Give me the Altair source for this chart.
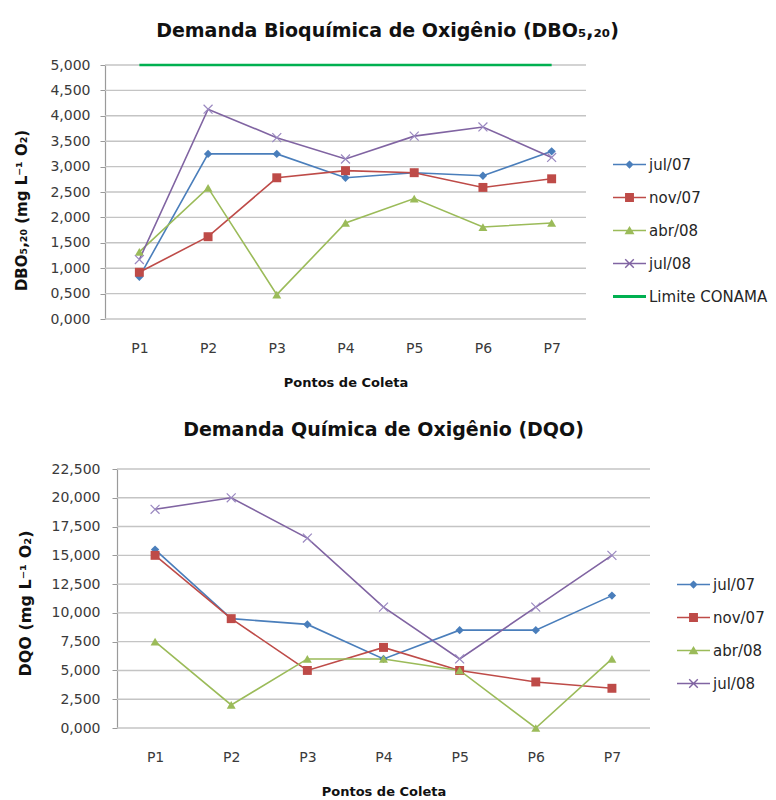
import altair as alt
import pandas as pd

FONTE = "DejaVu Sans"

pontos = ["P1", "P2", "P3", "P4", "P5", "P6", "P7"]
campanhas = ["jul/07", "nov/07", "abr/08", "jul/08"]
limite_nome = "Limite CONAMA"

# DBO5,20 (mg L-1 O2) por ponto de coleta
dbo_jul07 = [0.83, 3.25, 3.25, 2.78, 2.88, 2.82, 3.30]
dbo_nov07 = [0.92, 1.62, 2.78, 2.92, 2.88, 2.59, 2.76]
dbo_abr08 = [1.32, 2.58, 0.48, 1.89, 2.37, 1.81, 1.89]
dbo_jul08 = [1.17, 4.13, 3.57, 3.15, 3.60, 3.78, 3.18]
dbo_limite = [5.0, 5.0, 5.0, 5.0, 5.0, 5.0, 5.0]

# DQO (mg L-1 O2) por ponto de coleta
dqo_jul07 = [15.5, 9.5, 9.0, 6.0, 8.5, 8.5, 11.5]
dqo_nov07 = [15.0, 9.5, 5.0, 7.0, 5.0, 4.0, 3.45]
dqo_abr08 = [7.5, 2.0, 6.0, 6.0, 5.0, 0.0, 6.0]
dqo_jul08 = [19.0, 20.0, 16.5, 10.5, 6.0, 10.5, 15.0]

cores = {
    "jul/07": "#4A7EBB",
    "nov/07": "#BE4B48",
    "abr/08": "#9BBB59",
    "jul/08": "#8064A2",
    limite_nome: "#00B050",
}
cor_marcador = dict(cores, **{"jul/08": "#9A88C0"})

# marcadores dos pontos: (forma, tamanho, preenchido)
marcadores = {
    "jul/07": ("diamond", 70, True),
    "nov/07": ("square", 80, True),
    "abr/08": ("triangle-up", 80, True),
    "jul/08": ("M-1,-1L1,1M-1,1L1,-1", 80, False),
}

# símbolos da legenda: segmento de linha + marcador (caminhos fechados, preenchidos)
LINHA = "M-1,-0.05H1V0.05H-1Z"
a, d = 0.26, 0.03
simbolos = {
    "jul/07": LINHA + "M0,-0.25L0.25,0L0,0.25L-0.25,0Z",
    "nov/07": LINHA + "M-0.27,-0.27H0.27V0.27H-0.27Z",
    "abr/08": LINHA + "M0,-0.27L0.3,0.22H-0.3Z",
    "jul/08": LINHA
    + f"M{-a+d:.3f},{-a-d:.3f}L{a+d:.3f},{a-d:.3f}L{a-d:.3f},{a+d:.3f}L{-a-d:.3f},{-a+d:.3f}Z"
    + f"M{-a+d:.3f},{a+d:.3f}L{-a-d:.3f},{a-d:.3f}L{a-d:.3f},{-a-d:.3f}L{a+d:.3f},{-a+d:.3f}Z",
    limite_nome: "M-1,-0.09H1V0.09H-1Z",
}


def tabela(series):
    linhas = []
    for nome, valores in series:
        for p, v in zip(pontos, valores):
            linhas.append({"ponto": p, "serie": nome, "valor": v})
    return pd.DataFrame(linhas)


def rotulo_decimal():
    return "replace(format(datum.value, '.3f'), '.', ',')"


def painel(df, nomes, y_titulo, y_max, y_passo, largura, altura, desloc,
           titulo, titulo_dx, titulo_offset, leg_x, leg_y, y_title_pad,
           y_title_size, y_title_y, y_label_pad):
    # desloc: quanto a área de plotagem começa à esquerda da origem do painel
    n_passos = int(round(y_max / y_passo))
    passos = [round(i * y_passo, 4) for i in range(n_passos + 1)]
    x = alt.X(
        "ponto:N", sort=pontos,
        scale=alt.Scale(type="point", padding=0.5, range=[-desloc, largura]),
        axis=alt.Axis(title="Pontos de Coleta", labelAngle=0, grid=False,
                      ticks=False, domain=False, labelPadding=22,
                      titlePadding=21),
    )
    y = alt.Y(
        "valor:Q",
        scale=alt.Scale(domain=[0, y_max], nice=False, zero=True),
        axis=alt.Axis(title=y_titulo, values=passos, labelExpr=rotulo_decimal(),
                      grid=False, tickSize=5, labelPadding=y_label_pad,
                      offset=desloc, titlePadding=y_title_pad,
                      titleFontSize=y_title_size, titleY=y_title_y),
    )
    base = alt.Chart(df)

    # linhas de grade horizontais
    grade = (
        alt.Chart(pd.DataFrame({"valor": passos}))
        .mark_rule(color="#C4C4C4", strokeWidth=1.4)
        .encode(y=y, x=alt.value(-desloc), x2=alt.value(largura))
    )

    # legenda: camada sem dados, só com as escalas de cor e forma
    leg = alt.Legend(
        title=None, orient="none", legendX=leg_x, legendY=leg_y,
        symbolSize=33 * 33, rowPadding=8, labelOffset=3,
        labelFont=FONTE, labelFontSize=15, labelColor="#262626",
        padding=0, symbolStrokeWidth=0,
    )
    camadas = [
        grade,
        base.transform_filter("false")
        .mark_point(filled=True, opacity=1, strokeWidth=0)
        .encode(
            color=alt.Color("serie:N",
                            scale=alt.Scale(domain=nomes,
                                            range=[cores[n] for n in nomes]),
                            legend=leg),
            shape=alt.Shape("serie:N",
                            scale=alt.Scale(domain=nomes,
                                            range=[simbolos[n] for n in nomes]),
                            legend=leg),
        ),
    ]

    for s in campanhas:
        camadas.append(
            base.transform_filter(alt.datum.serie == s)
            .mark_line(strokeWidth=1.6, color=cores[s])
            .encode(x=x, y=y)
        )
    for s in campanhas:
        forma, tam, cheio = marcadores[s]
        camadas.append(
            base.transform_filter(alt.datum.serie == s)
            .mark_point(shape=forma, size=tam, filled=cheio, opacity=1,
                        strokeWidth=1.2, color=cor_marcador[s])
            .encode(x=x, y=y)
        )
    if limite_nome in nomes:
        camadas.append(
            base.transform_filter(alt.datum.serie == limite_nome)
            .mark_line(strokeWidth=2.6, color=cores[limite_nome])
            .encode(x=x, y=y)
        )

    return alt.layer(*camadas).properties(
        width=largura, height=altura,
        title=alt.TitleParams(titulo, fontSize=19, fontWeight="bold",
                              font=FONTE, color="#111111", anchor="middle",
                              frame="group", dx=titulo_dx,
                              offset=titulo_offset),
    )


df_dbo = tabela([
    ("jul/07", dbo_jul07), ("nov/07", dbo_nov07), ("abr/08", dbo_abr08),
    ("jul/08", dbo_jul08), (limite_nome, dbo_limite),
])
df_dqo = tabela([
    ("jul/07", dqo_jul07), ("nov/07", dqo_nov07), ("abr/08", dqo_abr08),
    ("jul/08", dqo_jul08),
])

topo = painel(
    df_dbo, campanhas + [limite_nome], "DBO₅,₂₀ (mg L⁻¹ O₂)", 5.0, 0.5,
    469, 254, 12,
    "Demanda Bioquímica de Oxigênio (DBO₅,₂₀)", 36, 17,
    496, 83, 20, 15, 145, 10,
)
base_chart = painel(
    df_dqo, campanhas, "DQO (mg L⁻¹ O₂)", 22.5, 2.5,
    533, 259, 0,
    "Demanda Química de Oxigênio (DQO)", 0, 22,
    560, 99, 18, 16, 134, 12,
)

chart = (
    alt.vconcat(topo, base_chart, spacing=32)
    .resolve_scale(color="independent", shape="independent")
    .properties(padding={"left": 14, "top": 22, "right": 0, "bottom": 0},
                background="white")
    .configure_view(stroke=None)
    .configure_axis(
        labelFont=FONTE, labelFontSize=14, labelColor="#3a3a3a",
        titleFont=FONTE, titleFontSize=13, titleFontWeight="bold",
        titleColor="#111111",
        domainColor="#9A9A9A", tickColor="#9A9A9A", domainWidth=1.2,
    )
)

chart.save("out.html", embed_options={"renderer": "svg", "actions": False})
